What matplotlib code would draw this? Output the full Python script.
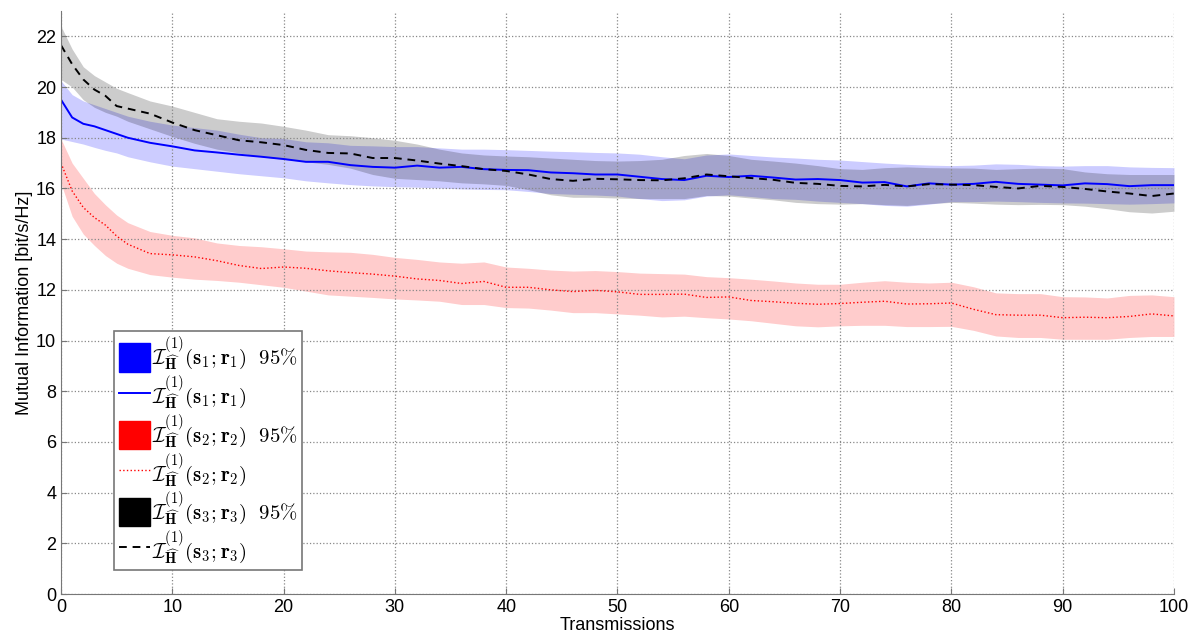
import numpy as np
import matplotlib
matplotlib.use("Agg")
import matplotlib.pyplot as plt
from matplotlib.patches import Patch
from matplotlib.lines import Line2D

plt.rcParams['font.family'] = ['Liberation Sans', 'DejaVu Sans']
plt.rcParams['mathtext.fontset'] = 'cm'

# transmission index
tx = [0, 1, 2, 3, 4, 5, 6] + list(range(8, 101, 2))

# user 1: mean and 95% band
b_m = [19.5, 18.8, 18.55, 18.45, 18.3, 18.15, 18.0, 17.8, 17.66, 17.5, 17.42, 17.33,
       17.25, 17.16, 17.05, 17.05, 16.92, 16.85, 16.82, 16.9, 16.82, 16.85, 16.76, 16.73,
       16.72, 16.63, 16.6, 16.55, 16.55, 16.46, 16.37, 16.33, 16.5, 16.45, 16.5, 16.43,
       16.35, 16.37, 16.33, 16.23, 16.25, 16.08, 16.2, 16.15, 16.18, 16.26, 16.18, 16.15,
       16.12, 16.2, 16.17, 16.09, 16.13, 16.13]
b_hi = [20.25, 19.7, 19.45, 19.3, 19.15, 19.0, 18.85, 18.65, 18.5, 18.4, 18.3, 18.14,
        18.0, 17.97, 17.84, 17.8, 17.7, 17.68, 17.65, 17.65, 17.6, 17.55, 17.55, 17.53,
        17.5, 17.47, 17.45, 17.42, 17.4, 17.35, 17.25, 17.17, 17.32, 17.36, 17.3, 17.24,
        17.2, 17.15, 17.12, 17.06, 17.0, 16.95, 16.92, 16.9, 16.92, 16.97, 16.95, 16.9,
        16.88, 16.9, 16.9, 16.85, 16.83, 16.82]
b_lo = [17.95, 17.85, 17.75, 17.62, 17.5, 17.4, 17.25, 17.05, 16.88, 16.78, 16.68, 16.58,
        16.5, 16.42, 16.3, 16.22, 16.15, 16.1, 16.07, 16.05, 16.02, 15.98, 15.96, 15.95,
        15.88, 15.8, 15.77, 15.74, 15.7, 15.6, 15.52, 15.55, 15.7, 15.75, 15.68, 15.6,
        15.57, 15.5, 15.45, 15.4, 15.33, 15.3, 15.38, 15.48, 15.48, 15.5, 15.48, 15.45,
        15.43, 15.42, 15.4, 15.38, 15.4, 15.43]

# user 2
r_m = [17.0, 15.9, 15.25, 14.85, 14.55, 14.12, 13.8, 13.43, 13.38, 13.3, 13.15, 12.96,
       12.84, 12.9, 12.85, 12.75, 12.68, 12.62, 12.54, 12.43, 12.37, 12.25, 12.33, 12.1,
       12.1, 12.0, 11.93, 11.98, 11.92, 11.82, 11.82, 11.83, 11.7, 11.72, 11.58, 11.53,
       11.47, 11.43, 11.46, 11.51, 11.55, 11.44, 11.45, 11.48, 11.23, 11.02, 11.0, 11.0,
       10.9, 10.92, 10.9, 10.95, 11.05, 10.97]
r_hi = [17.95, 17.0, 16.4, 15.8, 15.35, 14.95, 14.65, 14.3, 14.15, 14.05, 13.85, 13.75,
        13.7, 13.62, 13.53, 13.5, 13.48, 13.4, 13.28, 13.2, 13.1, 13.05, 13.1, 12.9,
        12.85, 12.78, 12.74, 12.76, 12.72, 12.66, 12.64, 12.62, 12.52, 12.48, 12.42, 12.35,
        12.27, 12.22, 12.22, 12.3, 12.36, 12.3, 12.27, 12.3, 12.12, 11.88, 11.85, 11.85,
        11.73, 11.72, 11.68, 11.78, 11.8, 11.73]
r_lo = [16.2, 14.9, 14.2, 13.75, 13.35, 13.05, 12.85, 12.6, 12.5, 12.42, 12.37, 12.3,
        12.2, 12.1, 11.95, 11.8, 11.75, 11.7, 11.64, 11.6, 11.55, 11.42, 11.42, 11.3,
        11.28, 11.2, 11.1, 11.1, 11.05, 11.0, 10.93, 10.96, 10.9, 10.85, 10.78, 10.68,
        10.58, 10.54, 10.58, 10.6, 10.6, 10.55, 10.55, 10.56, 10.4, 10.18, 10.12, 10.12,
        10.05, 10.05, 10.05, 10.12, 10.16, 10.16]

# user 3
k_m = [21.65, 20.9, 20.3, 19.9, 19.65, 19.25, 19.15, 18.95, 18.6, 18.3, 18.1, 17.9,
       17.82, 17.71, 17.52, 17.4, 17.38, 17.2, 17.2, 17.1, 16.98, 16.88, 16.76, 16.69,
       16.55, 16.37, 16.3, 16.38, 16.36, 16.33, 16.32, 16.4, 16.55, 16.48, 16.41, 16.34,
       16.22, 16.18, 16.1, 16.08, 16.14, 16.08, 16.17, 16.15, 16.13, 16.06, 16.0, 16.1,
       16.06, 15.98, 15.88, 15.8, 15.7, 15.8]
k_hi = [22.4, 21.5, 20.8, 20.45, 20.2, 19.95, 19.78, 19.45, 19.25, 19.0, 18.75, 18.65,
        18.58, 18.45, 18.3, 18.12, 18.08, 18.0, 17.9, 17.75, 17.55, 17.4, 17.32, 17.28,
        17.25, 17.2, 17.15, 17.1, 17.08, 17.1, 17.15, 17.3, 17.38, 17.3, 17.15, 17.08,
        17.0, 16.9, 16.78, 16.75, 16.82, 16.85, 16.82, 16.81, 16.8, 16.75, 16.78, 16.8,
        16.78, 16.65, 16.58, 16.55, 16.55, 16.55]
k_lo = [20.3, 20.0, 19.5, 19.2, 19.0, 18.85, 18.65, 18.35, 18.05, 17.78, 17.55, 17.4,
        17.25, 17.15, 17.05, 16.95, 16.8, 16.55, 16.4, 16.35, 16.3, 16.22, 16.18, 16.12,
        15.95, 15.75, 15.65, 15.65, 15.62, 15.6, 15.6, 15.6, 15.72, 15.7, 15.62, 15.55,
        15.45, 15.4, 15.38, 15.4, 15.36, 15.33, 15.4, 15.45, 15.42, 15.38, 15.36, 15.37,
        15.36, 15.3, 15.2, 15.08, 15.03, 15.1]

lbl = [r'$\mathcal{I}^{(1)}_{\widehat{\mathbf{H}}}(\mathbf{s}_%d;\mathbf{r}_%d)$' % (i, i)
       for i in (1, 2, 3)]

fig = plt.figure(figsize=(12.01, 6.39), dpi=100)
ax = fig.add_axes([0.0508, 0.0704, 0.9267, 0.9124])

ax.fill_between(tx, b_lo, b_hi, color='blue', alpha=0.2, lw=0)
ax.fill_between(tx, r_lo, r_hi, color='red', alpha=0.2, lw=0)
ax.fill_between(tx, k_lo, k_hi, color='black', alpha=0.2, lw=0)
ax.plot(tx, b_m, color='blue', lw=1.4)
ax.plot(tx, r_m, color='red', lw=1.0, ls=':')
ax.plot(tx, k_m, color='black', lw=1.4, ls='--', dashes=(4, 3))

ax.set_xlim(0, 100)
ax.set_ylim(0, 23)
ax.set_xticks(range(0, 101, 10))
ax.set_yticks(range(0, 23, 2))
ax.grid(True, ls=':', color='#888888', lw=0.9)
for s in ('top', 'right'):
    ax.spines[s].set_visible(False)
for s in ('left', 'bottom'):
    ax.spines[s].set_color('#777777')
ax.tick_params(direction='in', labelsize=13, colors='#777777', labelcolor='black', length=4)
ax.set_xlabel('Transmissions', fontsize=13, labelpad=1)
ax.set_ylabel('Mutual Information [bit/s/Hz]', fontsize=13, labelpad=2)

handles = [Patch(color='blue'), Line2D([], [], color='blue', lw=1.4),
           Patch(color='red'), Line2D([], [], color='red', lw=1.0, ls=':'),
           Patch(color='black'), Line2D([], [], color='black', lw=1.4, ls='--', dashes=(4, 3))]
labels = [lbl[0] + r'$\ \ 95\%$', lbl[0], lbl[1] + r'$\ \ 95\%$', lbl[1],
          lbl[2] + r'$\ \ 95\%$', lbl[2]]
leg = ax.legend(handles, labels, loc='lower left', bbox_to_anchor=(0.048, 0.041),
                fontsize=15, handlelength=1.5, handleheight=1.7, handletextpad=0.1,
                labelspacing=0.05, borderpad=0.2, borderaxespad=0, fancybox=False,
                framealpha=1)
leg.get_frame().set_edgecolor('#777777')
leg.get_frame().set_linewidth(1.2)

fig.savefig('out.png', dpi=100)
